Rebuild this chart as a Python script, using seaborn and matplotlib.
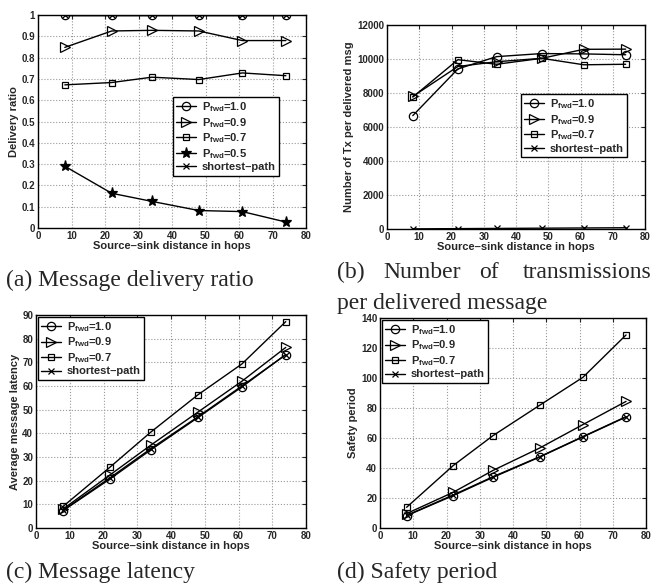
import matplotlib
matplotlib.use("Agg")
import matplotlib.pyplot as plt
import seaborn as sns

hops = [8, 22, 34, 48, 61, 74]

# (a) delivery ratio
ratio_p10 = [1.0, 1.0, 1.0, 1.0, 1.0, 1.0]
ratio_p09 = [0.848, 0.925, 0.928, 0.925, 0.880, 0.880]
ratio_p07 = [0.672, 0.683, 0.708, 0.697, 0.728, 0.715]
ratio_p05 = [0.290, 0.163, 0.125, 0.082, 0.077, 0.028]
ratio_sp = [1.0, 1.0, 1.0, 1.0, 1.0, 1.0]

# (b) transmissions per delivered message
tx_p10 = [6670, 9420, 10140, 10320, 10300, 10250]
tx_p09 = [7800, 9560, 9840, 10040, 10570, 10580]
tx_p07 = [7760, 9960, 9690, 10040, 9660, 9690]
tx_sp = [8, 22, 34, 48, 61, 74]

# (c) latency
lat_p10 = [7.3, 20.8, 33.0, 46.7, 59.6, 73.3]
lat_p09 = [8.0, 22.5, 35.0, 49.0, 62.0, 76.3]
lat_p07 = [9.1, 25.8, 40.5, 56.3, 69.3, 87.2]
lat_sp = [7.5, 21.3, 33.5, 47.0, 60.0, 73.2]

# (d) safety period
safe_p10 = [8.2, 21.6, 33.8, 47.3, 60.7, 74.0]
safe_p09 = [9.6, 23.8, 38.4, 53.3, 68.9, 84.4]
safe_p07 = [13.8, 41.6, 61.6, 81.8, 100.4, 128.7]
safe_sp = [8.4, 22.0, 34.2, 47.5, 60.9, 74.2]

W, H = 657, 584
sns.set_style("white")
plt.rcParams["font.family"] = ["Liberation Sans", "DejaVu Sans"]
plt.rcParams["font.weight"] = "bold"
plt.rcParams["mathtext.fontset"] = "custom"
plt.rcParams["mathtext.rm"] = "Liberation Sans:bold"
plt.rcParams["mathtext.it"] = "Liberation Sans:bold"
plt.rcParams["mathtext.bf"] = "Liberation Sans:bold"

fig = plt.figure(figsize=(W / 100, H / 100), dpi=100)


def make_ax(l, r, t, b):
    return fig.add_axes([l / W, 1 - b / H, (r - l) / W, (b - t) / H])


def lab(p):
    return r"P$_{\rm fwd}$=" + p


styles = {
    "1.0": dict(marker="o", ms=6),
    "0.9": dict(marker=">", ms=6.5),
    "0.7": dict(marker="s", ms=5),
    "0.5": dict(marker="*", ms=8),
    "sp": dict(marker="x", ms=4),
}

leg_style = dict(fancybox=False, edgecolor="k", framealpha=1, fontsize=8,
                 handlelength=1.8, handletextpad=0.5, borderpad=0.3,
                 labelspacing=0.15)


def panel(ax, series, ylim, yticks, ylabel, ytl, legend_kw, order=None):
    for key, ys in series:
        st = styles[key]
        fc = "k" if key == "0.5" else "none"
        sns.lineplot(x=hops, y=ys, ax=ax, color="k", lw=1.0,
                     marker=st["marker"], ms=st["ms"], mfc=fc, mec="k",
                     mew=0.9)
    lines = ax.get_lines()
    idx = order if order is not None else list(range(len(series)))
    labels = [lab(series[i][0]) if series[i][0] != "sp" else "shortest\u2013path"
              for i in idx]
    leg = ax.legend([lines[i] for i in idx], labels, **leg_style, **legend_kw)
    leg.get_frame().set_linewidth(1.0)
    ax.set_xlim(0, 80)
    ax.set_xticks(range(0, 81, 10))
    ax.set_ylim(*ylim)
    ax.set_yticks(yticks)
    ax.set_yticklabels(ytl)
    ax.grid(True, color="#999999", ls=":", lw=0.8)
    ax.tick_params(direction="in", length=3, width=0.8, labelsize=7, pad=2,
                   top=True, right=True)
    for s in ax.spines.values():
        s.set_linewidth(1.0)
        s.set_color("k")
    ax.set_xlabel("Source\u2013sink distance in hops", fontsize=8,
                  fontweight="bold", labelpad=0)
    ax.set_ylabel(ylabel, fontsize=8, fontweight="bold", labelpad=2)


ax_a = make_ax(38, 306, 15, 228)
panel(ax_a,
      [("sp", ratio_sp), ("1.0", ratio_p10), ("0.9", ratio_p09),
       ("0.7", ratio_p07), ("0.5", ratio_p05)],
      (0, 1), [i / 10 for i in range(11)], "Delivery ratio",
      ["0"] + ["0.%d" % i for i in range(1, 10)] + ["1"],
      dict(loc="upper right", bbox_to_anchor=(0.90, 0.615), borderaxespad=0),
      order=[1, 2, 3, 4, 0])

ax_b = make_ax(387, 645, 25, 229)
panel(ax_b,
      [("1.0", tx_p10), ("0.9", tx_p09), ("0.7", tx_p07), ("sp", tx_sp)],
      (0, 12000), list(range(0, 12001, 2000)),
      "Number of Tx per delivered msg",
      [str(v) for v in range(0, 12001, 2000)],
      dict(loc="upper right", bbox_to_anchor=(0.93, 0.662), borderaxespad=0))

ax_c = make_ax(36, 306, 315, 528)
panel(ax_c,
      [("1.0", lat_p10), ("0.9", lat_p09), ("0.7", lat_p07), ("sp", lat_sp)],
      (0, 90), list(range(0, 91, 10)), "Average message latency",
      [str(v) for v in range(0, 91, 10)],
      dict(loc="upper left", bbox_to_anchor=(0.0, 1.0), borderaxespad=0.15))

ax_d = make_ax(380, 646, 318, 528)
panel(ax_d,
      [("1.0", safe_p10), ("0.9", safe_p09), ("0.7", safe_p07), ("sp", safe_sp)],
      (0, 140), list(range(0, 141, 20)), "Safety period",
      [str(v) for v in range(0, 141, 20)],
      dict(loc="upper left", bbox_to_anchor=(0.0, 1.0), borderaxespad=0.15))

cap = dict(family=["Liberation Serif", "DejaVu Serif"], fontsize=17,
           fontweight="normal", va="center")
fig.text(6 / W, 1 - 280 / H, "(a) Message delivery ratio", ha="left", **cap)
fig.text(337 / W, 1 - 272 / H, "(b)", ha="left", **cap)
fig.text(383 / W, 1 - 272 / H, "Number", ha="left", **cap)
fig.text(479 / W, 1 - 272 / H, "of", ha="left", **cap)
fig.text(652 / W, 1 - 272 / H, "transmissions", ha="right", **cap)
fig.text(337 / W, 1 - 303 / H, "per delivered message", ha="left", **cap)
fig.text(6 / W, 1 - 572 / H, "(c) Message latency", ha="left", **cap)
fig.text(337 / W, 1 - 572 / H, "(d) Safety period", ha="left", **cap)

fig.savefig("out.png", dpi=100)
